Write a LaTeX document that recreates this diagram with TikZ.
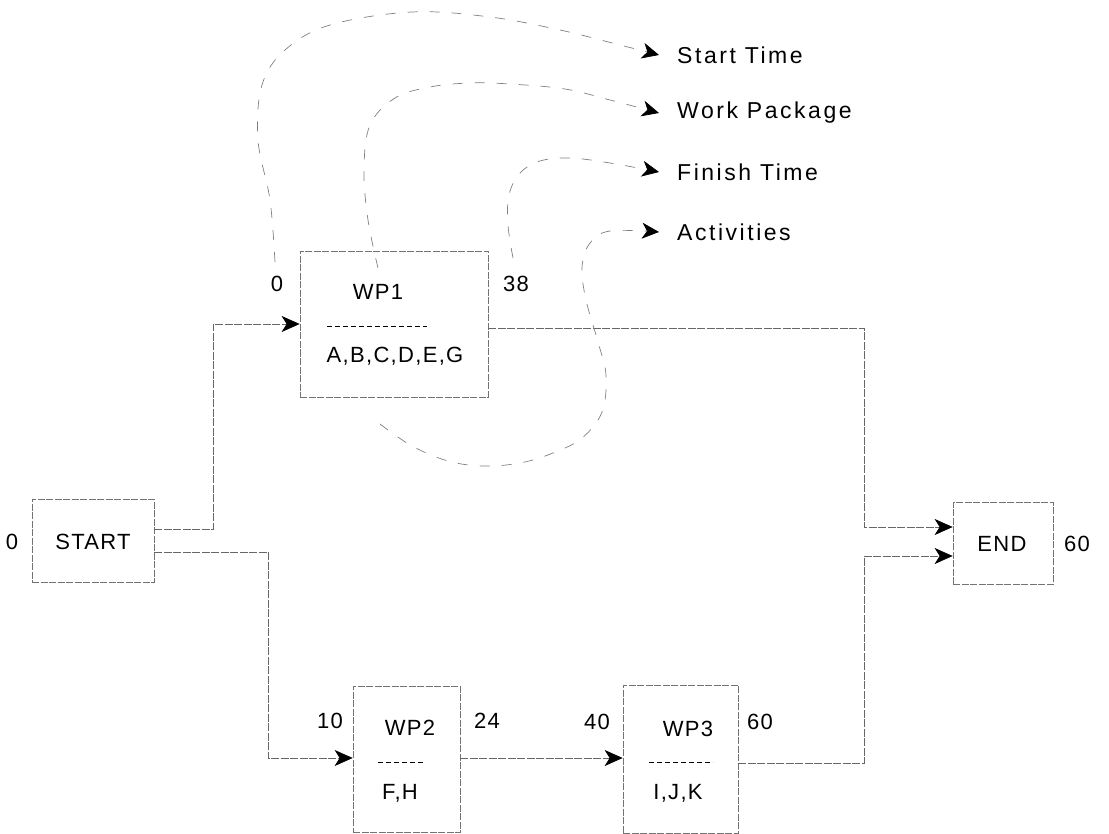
\documentclass[tikz,border=0pt]{standalone}
\usepackage{fontspec}
\setmainfont{Liberation Sans}[LetterSpace=6]
\newfontfamily\labfont{Liberation Sans}[LetterSpace=11]
\usetikzlibrary{arrows.meta}
\begin{document}
\begin{tikzpicture}[x=1pt,y=-1pt,
  every node/.style={font=\fontsize{22}{26}\selectfont, inner sep=0pt},
  boxnode/.style={draw=black!55, line width=0.7pt, dash pattern=on 7pt off 1.5pt, rectangle},
  conn/.style={draw=black!60, line width=0.7pt, dash pattern=on 8pt off 1.5pt,
     -{Stealth[length=18pt,width=16pt,inset=5pt,color=black]}},
  callout/.style={draw=black!50, line width=0.7pt, dash pattern=on 10pt off 12pt,
     -{Stealth[length=17pt,width=16pt,inset=5pt,color=black]}},
  sepline/.style={draw=black, line width=1pt, dash pattern=on 5pt off 3pt},
  lab/.style={anchor=west, font=\labfont\fontsize{23}{27}\selectfont}
]
\useasboundingbox (0,0) rectangle (1109,834);

% boxes
\node[boxnode, minimum width=122pt, minimum height=83pt] (start) at (93,540.5) {};
\node[boxnode, minimum width=188pt, minimum height=146pt] (wp1) at (394,324) {};
\node[boxnode, minimum width=107pt, minimum height=146pt] (wp2) at (406.5,759) {};
\node[boxnode, minimum width=115pt, minimum height=148pt] (wp3) at (680.5,759) {};
\node[boxnode, minimum width=100pt, minimum height=82pt] (end) at (1003,543) {};

% texts
\node (startt) at (93,542) {START};
\node (s0) at (12,542) {0};
\node (endt) at (1002,544) {END};
\node (e60) at (1077,544) {60};

\node (w1t) at (378,292) {WP1};
\node (w1a) at (395,356) {A,B,C,D,E,G};
\node (w1s) at (277,284) {0};
\node (w1f) at (516,284) {38};
\coordinate (w1l) at (327,327);
\coordinate (w1r) at (427,327);

\node (w2t) at (410,728) {WP2};
\node (w2a) at (400,793) {F,H};
\node (w2s) at (330,721) {10};
\node (w2f) at (487,721) {24};
\coordinate (w2l) at (378,762);
\coordinate (w2r) at (423,762);

\node (w3t) at (688,729) {WP3};
\node (w3a) at (678,793) {I,J,K};
\node (w3s) at (597,722) {40};
\node (w3f) at (760,722) {60};
\coordinate (w3l) at (649,762);
\coordinate (w3r) at (713,762);

\draw[sepline] (w1l) -- (w1r);
\draw[sepline] (w2l) -- (w2r);
\draw[sepline] (w3l) -- (w3r);

% legend labels
\node[lab] (lst) at (677,55) {Start Time};
\node[lab] (lwp) at (677,113) {Work Package};
\node[lab] (lft) at (677,172) {Finish Time};
\node[lab] (lac) at (677,232) {Activities};

% connectors
\draw[conn] (start.east |- 0,529) -| (213,324) -- (wp1.west |- 0,324);
\draw[conn] (start.east |- 0,552) -| (268,758) -- (wp2.west |- 0,758);
\draw[conn] (wp2.east |- 0,758) -- (wp3.west |- 0,758);
\draw[conn] (wp1.east |- 0,328) -| (864,527) -- (end.west |- 0,527);
\draw[conn] (wp3.east |- 0,763) -| (864,556) -- (end.west |- 0,556);

% callouts
\coordinate (cst) at (275,262);
\coordinate (cwp) at (378,268);
\coordinate (cft) at (513,258);
\coordinate (cac) at (380,424);
\draw[callout] plot[smooth, tension=0.6] coordinates {(cst) (270,200) (258,140) (262,85) (285,50) (330,25) (412,12) (490,17) (560,30) (620,45) ([xshift=-18pt]lst.west)};
\draw[callout] plot[smooth, tension=0.6] coordinates {(cwp) (368,220) (364,170) (370,125) (395,98) (430,87) (470,83) (510,84) (565,89) (610,100) ([xshift=-18pt]lwp.west)};
\draw[callout] plot[smooth, tension=0.6] coordinates {(cft) (508,225) (509,195) (520,173) (540,161) (570,158) (610,163) ([xshift=-18pt]lft.west)};
\draw[callout] plot[smooth, tension=0.6] coordinates {(cac) (412,446) (448,461) (483,466) (520,463) (553,453) (582,438) (602,412) (606,375) (598,342) (586,300) (582,267) (590,243) (610,231) ([xshift=-18pt]lac.west)};
\end{tikzpicture}
\end{document}
